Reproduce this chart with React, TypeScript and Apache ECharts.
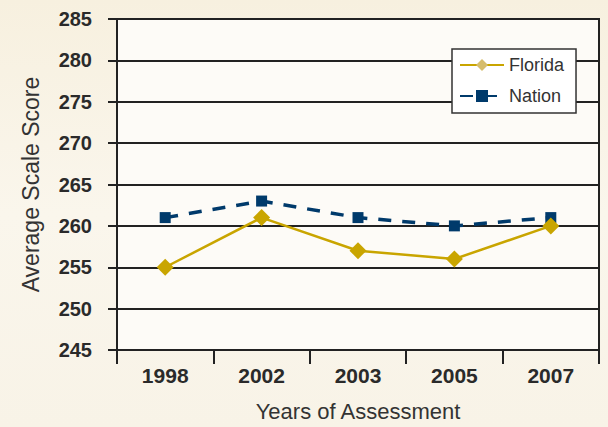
import React, { useEffect, useRef } from "react";
import * as echarts from "echarts";

const years = ["1998", "2002", "2003", "2005", "2007"];
const florida = [255, 261, 257, 256, 260];
const nation = [261, 263, 261, 260, 261];
const yMin = 245;
const yMax = 285;
const yStep = 5;

export default function App() {
  const ref = useRef<HTMLDivElement>(null);
  useEffect(() => {
    if (!ref.current) return;
    const chart = echarts.init(ref.current, undefined, { renderer: "svg" });
    const font = "Liberation Sans";
    chart.setOption({
      animation: false,
      backgroundColor: {
        type: "linear", x: 0, y: 0, x2: 0, y2: 1,
        colorStops: [
          { offset: 0, color: "#f7f0df" },
          { offset: 0.5, color: "#faf6ec" },
          { offset: 1, color: "#f8f3e7" },
        ],
      },
      grid: {
        left: 117, right: 9, top: 19, bottom: 77,
        show: true,
        backgroundColor: "#fdfbf7",
        borderColor: "#222",
        borderWidth: 2,
      },
      legend: {
        left: 452,
        top: 49,
        orient: "vertical",
        backgroundColor: "#ffffff",
        borderColor: "#333",
        borderWidth: 1.5,
        borderRadius: 0,
        padding: [7, 12, 8, 7],
        itemWidth: 44,
        itemHeight: 15,
        itemGap: 13,
        textStyle: { fontFamily: font, fontSize: 18, color: "#333" },
        data: [
          { name: "Florida", itemStyle: { color: "#d6bd6c" } },
          { name: "Nation" },
        ],
      },
      xAxis: {
        type: "category",
        data: years,
        boundaryGap: true,
        axisLine: { show: true, lineStyle: { color: "#222", width: 2 } },
        axisTick: { show: true, length: 14, lineStyle: { color: "#222", width: 2 } },
        axisLabel: {
          margin: 15,
          fontFamily: font,
          fontWeight: "bold",
          fontSize: 21,
          color: "#2a2a2a",
        },
        name: "Years of Assessment",
        nameLocation: "middle",
        nameGap: 50,
        nameTextStyle: { fontFamily: font, fontSize: 22, color: "#333" },
      },
      yAxis: {
        type: "value",
        min: yMin,
        max: yMax,
        interval: yStep,
        axisLine: { show: true, lineStyle: { color: "#222", width: 2 } },
        axisTick: { show: true, length: 9, lineStyle: { color: "#222", width: 2 } },
        splitLine: { show: true, lineStyle: { color: "#222", width: 2 } },
        axisLabel: {
          margin: 25,
          fontFamily: font,
          fontWeight: "bold",
          fontSize: 20,
          color: "#2a2a2a",
        },
        name: "Average Scale Score",
        nameLocation: "middle",
        nameGap: 75,
        nameTextStyle: { fontFamily: font, fontSize: 23, color: "#333" },
      },
      series: [
        {
          name: "Florida",
          type: "line",
          data: florida,
          symbol: "diamond",
          symbolSize: 17,
          itemStyle: { color: "#c9a500" },
          lineStyle: { color: "#c9a500", width: 2.5 },
          z: 3,
        },
        {
          name: "Nation",
          type: "line",
          data: nation,
          symbol: "rect",
          symbolSize: 11,
          itemStyle: { color: "#003a6b" },
          lineStyle: { color: "#003a6b", width: 3.5, type: [13, 11] },
          z: 2,
        },
      ],
    });
    return () => chart.dispose();
  }, []);
  return (
    <div
      ref={ref}
      style={{ position: "fixed", left: 0, top: 0, width: 608, height: 427 }}
    />
  );
}
